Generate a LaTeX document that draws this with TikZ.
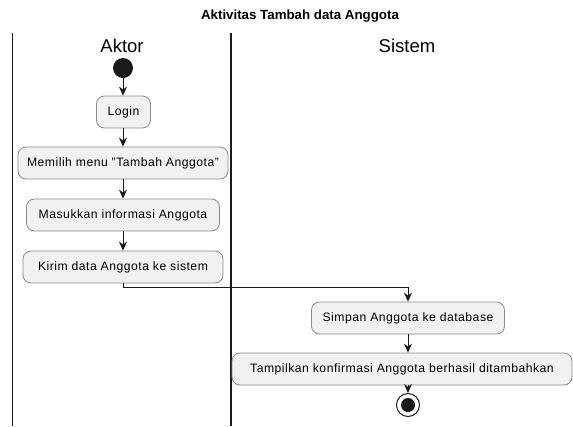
\documentclass[tikz,border=0pt]{standalone}
\usepackage{fontspec}
\setmainfont{Liberation Sans}
\usetikzlibrary{arrows.meta}
\definecolor{boxfill}{HTML}{F1F1F1}
\definecolor{boxline}{HTML}{8A8A8A}
\definecolor{ink}{HTML}{1A1A1A}
\tikzset{
  act/.style={draw=boxline, fill=boxfill, rounded corners=8pt, line width=0.8pt,
    minimum height=32pt, inner xsep=4pt, font=\fontsize{12.2}{14}\selectfont\addfontfeature{LetterSpace=4}},
  flow/.style={draw=ink, line width=0.9pt, -{Stealth[length=9pt,width=8pt,inset=3pt]}},
  lane/.style={draw=ink, line width=1.2pt},
  lanehead/.style={font=\fontsize{18.5}{20}\selectfont},
}
\begin{document}
\begin{tikzpicture}[x=1pt,y=-1pt]
\useasboundingbox[fill=white] (0,0) rectangle (573,426);
% title
\node[font=\bfseries\fontsize{13.3}{15}\selectfont] (title) at (300,16) {Aktivitas Tambah data Anggota};
% swimlanes
\draw[lane] (12.5,33) -- (12.5,426);
\draw[lane] (231,33) -- (231,426);
\node[lanehead] (aktor) at (122,46) {Aktor};
\node[lanehead] (sistem) at (407,46) {Sistem};
% start
\node[circle, fill=ink, minimum size=20pt, inner sep=0pt] (start) at (123,68) {};
% actions
\node[act, minimum width=54pt] (login) at (123.5,112) {Login};
\node[act, minimum width=210pt] (memilih) at (123,163) {Memilih menu "Tambah Anggota"};
\node[act, minimum width=193pt] (masukkan) at (123,215) {Masukkan informasi Anggota};
\node[act, minimum width=200pt] (kirim) at (123,267) {Kirim data Anggota ke sistem};
\node[act, minimum width=193pt] (simpan) at (408,318) {Simpan Anggota ke database};
\node[act, minimum width=340pt] (tampil) at (402,369) {Tampilkan konfirmasi Anggota berhasil ditambahkan};
% end
\node[circle, draw=ink, line width=1pt, fill=white, minimum size=23pt, inner sep=0pt] (stop) at (408,405) {};
\node[circle, fill=ink, minimum size=14pt, inner sep=0pt] (stopdot) at (stop.center) {};
% flows
\draw[flow] (start) -- (start |- login.north);
\draw[flow] (start |- login.south) -- (start |- memilih.north);
\draw[flow] (memilih) -- (masukkan);
\draw[flow] (masukkan) -- (kirim);
\coordinate (bend) at (123,287);
\draw[flow] (kirim.south) -- (bend) -- (bend -| simpan.north) -- (simpan.north);
\draw[flow] (simpan) -- (simpan |- tampil.north);
\draw[flow] (simpan |- tampil.south) -- (stop);
\end{tikzpicture}
\end{document}
